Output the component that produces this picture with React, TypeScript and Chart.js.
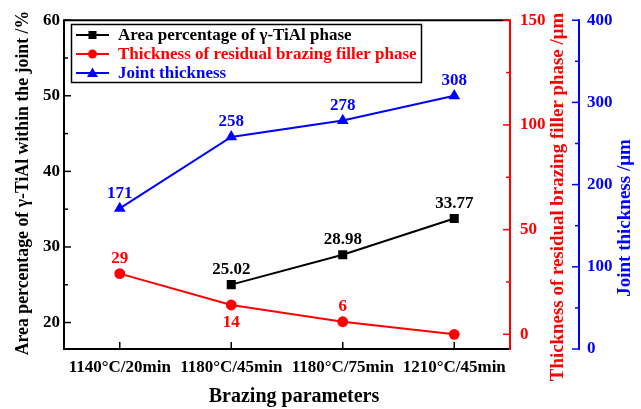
import React, { useEffect, useRef } from 'react';
import { Chart, registerables } from 'chart.js';

Chart.register(...registerables);

const categories = ['1140°C/20min', '1180°C/45min', '1180°C/75min', '1210°C/45min'];
const gammaArea: (number | null)[] = [null, 25.02, 28.98, 33.77];
const fillerThickness = [29, 14, 6, 0];
const jointThickness = [171, 258, 278, 308];
const gammaLabels = ['', '25.02', '28.98', '33.77'];
const fillerLabels = ['29', '14', '6', ''];
const jointLabels = ['171', '258', '278', '308'];
const leftTicks = [20, 30, 40, 50, 60];
const redTicks = [0, 50, 100, 150];
const blueTicks = [0, 100, 200, 300, 400];

const seriesNames = [
  'Area percentage of γ-TiAl phase',
  'Thickness of residual brazing filler phase',
  'Joint thickness',
];
const axisTitles = {
  x: 'Brazing parameters',
  left: 'Area percentage of γ-TiAl within the joint /%',
  red: 'Thickness of residual brazing filler phase /μm',
  blue: 'Joint thickness /μm',
};

const RED = '#ff0000';
const BLUE = '#0000ff';
const BLACK = '#000000';
const FAM = '"Liberation Serif", "Times New Roman", serif';

function minorOf(ticks: number[]) {
  const out: number[] = [];
  for (let i = 0; i < ticks.length - 1; i++) out.push((ticks[i] + ticks[i + 1]) / 2);
  return out;
}

const decorPlugin = {
  id: 'decor',
  afterDraw(chart: any) {
    const ctx: CanvasRenderingContext2D = chart.ctx;
    const { left, right, top, bottom } = chart.chartArea;
    const xs = chart.scales.x;
    const ys = chart.scales.y;
    const y1 = chart.scales.y1;
    const y2 = chart.scales.y2;
    const line = (ax: number, ay: number, bx: number, by: number) => {
      ctx.beginPath();
      ctx.moveTo(ax, ay);
      ctx.lineTo(bx, by);
      ctx.stroke();
    };
    ctx.save();
    ctx.lineCap = 'butt';
    // frame
    ctx.lineWidth = 2;
    ctx.strokeStyle = BLACK;
    line(left - 1, top, right, top);
    line(left, top, left, bottom + 1);
    line(left - 1, bottom, right, bottom);
    ctx.strokeStyle = RED;
    line(right, top - 1, right, bottom + 1);
    ctx.strokeStyle = BLUE;
    const bx = y2.left;
    line(bx, top - 1, bx, bottom + 1);

    // ticks
    ctx.lineWidth = 1.5;
    ctx.strokeStyle = BLACK;
    leftTicks.forEach((v) => { const p = ys.getPixelForValue(v); line(left, p, left + 7, p); });
    minorOf(leftTicks).forEach((v) => { const p = ys.getPixelForValue(v); line(left, p, left + 4, p); });
    categories.forEach((_, i) => { const p = xs.getPixelForValue(i); line(p, bottom, p, bottom - 7); });
    ctx.strokeStyle = RED;
    redTicks.forEach((v) => { const p = y1.getPixelForValue(v); line(right - 7, p, right, p); });
    minorOf(redTicks).forEach((v) => { const p = y1.getPixelForValue(v); line(right - 4, p, right, p); });
    ctx.strokeStyle = BLUE;
    blueTicks.forEach((v) => { const p = y2.getPixelForValue(v); line(bx - 7, p, bx, p); });
    minorOf(blueTicks).forEach((v) => { const p = y2.getPixelForValue(v); line(bx - 4, p, bx, p); });

    // axis titles
    ctx.textAlign = 'center';
    ctx.textBaseline = 'middle';
    ctx.fillStyle = BLACK;
    ctx.font = `bold 20px ${FAM}`;
    ctx.fillText(axisTitles.x, 294, 397);
    const vtext = (t: string, x: number, y: number, c: string, size: number) => {
      ctx.save();
      ctx.font = `bold ${size}px ${FAM}`;
      ctx.translate(x, y);
      ctx.rotate(-Math.PI / 2);
      ctx.fillStyle = c;
      ctx.fillText(t, 0, 0);
      ctx.restore();
    };
    vtext(axisTitles.left, 23, 183, BLACK, 17.8);
    vtext(axisTitles.red, 558, 197, RED, 18.9);
    vtext(axisTitles.blue, 625, 218, BLUE, 19);

    // data labels
    const labelSets = [gammaLabels, fillerLabels, jointLabels];
    const below = [[false, false, false, false], [false, true, false, false], [false, false, false, false]];
    const colors = [BLACK, RED, BLUE];
    ctx.font = `bold 17px ${FAM}`;
    labelSets.forEach((labs, di) => {
      const meta = chart.getDatasetMeta(di);
      ctx.fillStyle = colors[di];
      meta.data.forEach((el: any, i: number) => {
        const t = labs[i];
        if (!t || el.skip) return;
        const dy = below[di][i] ? 18 : -15;
        ctx.fillText(t, el.x, el.y + dy);
      });
    });

    // legend
    ctx.lineWidth = 1.5;
    ctx.strokeStyle = BLACK;
    ctx.strokeRect(71.5, 24.5, 350, 58);
    const rows = [35, 54, 73];
    ctx.textAlign = 'left';
    ctx.font = `bold 17px ${FAM}`;
    chart.data.datasets.forEach((ds: any, i: number) => {
      const ry = rows[i];
      const c = colors[i];
      ctx.strokeStyle = c;
      ctx.fillStyle = c;
      ctx.lineWidth = 2;
      line(76, ry, 109, ry);
      const cx = 92.5;
      ctx.beginPath();
      if (i === 0) {
        ctx.rect(cx - 4, ry - 4, 8, 8);
      } else if (i === 1) {
        ctx.arc(cx, ry, 4.5, 0, Math.PI * 2);
      } else {
        ctx.moveTo(cx, ry - 5.5);
        ctx.lineTo(cx + 5.5, ry + 4);
        ctx.lineTo(cx - 5.5, ry + 4);
        ctx.closePath();
      }
      ctx.fill();
      ctx.fillText(ds.label, 118, ry + 1);
    });
    ctx.restore();
  },
};

export default function App() {
  const ref = useRef<HTMLCanvasElement | null>(null);
  useEffect(() => {
    if (!ref.current) return;
    const tickFont = { family: FAM, size: 17, weight: 'bold' as const };
    const chart = new Chart(ref.current, {
      type: 'line',
      data: {
        labels: categories,
        datasets: [
          {
            label: seriesNames[0],
            data: gammaArea,
            yAxisID: 'y',
            borderColor: BLACK,
            backgroundColor: BLACK,
            pointStyle: 'rect',
            pointRadius: 6.4,
            pointBorderWidth: 0,
            borderWidth: 2,
          },
          {
            label: seriesNames[1],
            data: fillerThickness,
            yAxisID: 'y1',
            borderColor: RED,
            backgroundColor: RED,
            pointStyle: 'circle',
            pointRadius: 5.4,
            pointBorderWidth: 0,
            borderWidth: 2,
          },
          {
            label: seriesNames[2],
            data: jointThickness,
            yAxisID: 'y2',
            borderColor: BLUE,
            backgroundColor: BLUE,
            pointStyle: 'triangle',
            pointRadius: 6.8,
            pointBorderWidth: 0,
            borderWidth: 2,
          },
        ],
      },
      options: {
        responsive: false,
        animation: false,
        layout: { padding: { top: 17, left: 0, right: 0, bottom: 0 } },
        plugins: { legend: { display: false }, tooltip: { enabled: false } },
        scales: {
          x: {
            type: 'category',
            offset: true,
            grid: { display: false, drawTicks: false },
            border: { display: false },
            ticks: { font: tickFont, color: BLACK, padding: 8, maxRotation: 0, autoSkip: false },
            afterFit: (s: any) => { s.height = 60; },
          },
          y: {
            position: 'left',
            min: 16.5,
            max: 60,
            grid: { display: false, drawTicks: false },
            border: { display: false },
            ticks: { font: tickFont, color: BLACK, padding: 4 },
            afterBuildTicks: (s: any) => { s.ticks = leftTicks.map((v) => ({ value: v })); },
            afterFit: (s: any) => { s.width = 64; },
          },
          y1: {
            position: 'right',
            weight: 1,
            min: -7,
            max: 150,
            grid: { display: false, drawTicks: false },
            border: { display: false },
            ticks: { font: tickFont, color: RED, padding: 10 },
            afterBuildTicks: (s: any) => { s.ticks = redTicks.map((v) => ({ value: v })); },
            afterFit: (s: any) => { s.width = 69; },
          },
          y2: {
            position: 'right',
            weight: 2,
            min: 0,
            max: 400,
            grid: { display: false, drawTicks: false },
            border: { display: false },
            ticks: { font: tickFont, color: BLUE, padding: 8 },
            afterBuildTicks: (s: any) => { s.ticks = blueTicks.map((v) => ({ value: v })); },
            afterFit: (s: any) => { s.width = 62; },
          },
        },
      },
      plugins: [decorPlugin],
    } as any);
    return () => chart.destroy();
  }, []);
  return (
    <div style={{ position: 'absolute', left: 0, top: 0, width: 641, height: 409, background: '#fff' }}>
      <canvas ref={ref} width={641} height={409} />
    </div>
  );
}
